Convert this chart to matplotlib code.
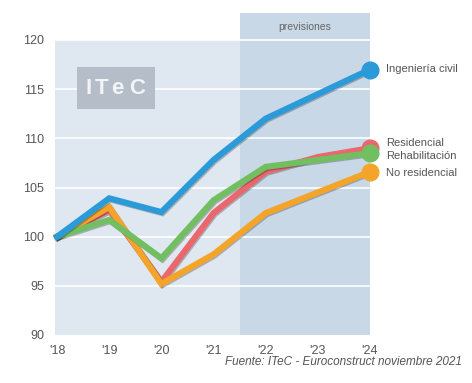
import matplotlib
matplotlib.use("Agg")
import matplotlib.pyplot as plt
from matplotlib.patches import Rectangle
import matplotlib.patheffects as pe
from matplotlib import font_manager

years = [2018, 2019, 2020, 2021, 2022, 2023, 2024]
year_labels = ["'18", "'19", "'20", "'21", "'22", "'23", "'24"]
ingenieria = [100, 103.9, 102.5, 107.8, 112.0, 114.5, 117.0]
residencial = [100, 102.7, 95.4, 102.4, 106.6, 108.1, 109.0]
rehabilitacion = [100, 101.7, 97.8, 103.7, 107.1, 107.8, 108.5]
no_residencial = [100, 103.0, 95.2, 98.2, 102.4, 104.5, 106.6]
y_ticks = [90, 95, 100, 105, 110, 115, 120]
forecast_start = 2021.5

names = [f.name for f in font_manager.fontManager.ttflist]
narrow = "Liberation Sans Narrow" if "Liberation Sans Narrow" in names else "Liberation Sans"
plt.rcParams['font.family'] = [narrow, 'DejaVu Sans']

fig = plt.figure(figsize=(4.72, 3.83), dpi=100)
ax = fig.add_axes([55/472, 1-335/383, 315/472, 295/383])
ax.set_xlim(2017.96, 2024.0)
ax.set_ylim(90, 120)
ax.set_facecolor('#dfe7f0')
for s in ax.spines.values():
    s.set_visible(False)

# forecast band (extends above the axes for header)
ax.add_patch(Rectangle((forecast_start, 90), 2024.0 - forecast_start, 32.75,
                       facecolor='#c9d8e6', edgecolor='none', zorder=0.5, clip_on=False))
ax.text((forecast_start + 2024.0) / 2, 121.35, 'previsiones', ha='center', va='center',
        fontsize=7.5, color='#666666')

for yv in y_ticks[1:]:
    ax.axhline(yv, color='white', lw=1.2, zorder=1, clip_on=False)

series = [
    (residencial, '#e9676d'),
    (no_residencial, '#f5a42a'),
    (rehabilitacion, '#72bf62'),
    (ingenieria, '#2b9ad8'),
]
for vals, col in series:
    ax.plot(years, vals, color=col, lw=4.4, solid_joinstyle='miter', zorder=3, clip_on=False,
            path_effects=[pe.SimpleLineShadow(offset=(0.8, -0.8), alpha=0.25), pe.Normal()])
    ax.plot(years[-1], vals[-1], 'o', color=col, ms=12, zorder=4, clip_on=False)

lab_kw = dict(fontsize=8, color='#555555', ha='left', va='center')
ax.text(2024.3, ingenieria[-1], 'Ingeniería civil', **lab_kw)
ax.text(2024.3, 109.5, 'Residencial', **lab_kw)
ax.text(2024.3, 108.2, 'Rehabilitación', **lab_kw)
ax.text(2024.3, 106.5, 'No residencial', **lab_kw)

ax.set_xticks(years)
ax.set_xticklabels(year_labels)
ax.set_yticks(y_ticks)
ax.tick_params(length=0, labelsize=9, colors='#555555')
ax.tick_params(axis='y', pad=8)
ax.tick_params(axis='x', pad=7)

# ITeC badge
fig.patches.append(Rectangle((77/472, 1-109/383), 78/472, 42/383, transform=fig.transFigure,
                             facecolor='#b5bdc9', edgecolor='none', zorder=5))
for ch, px in zip(['I', 'T', 'e', 'C'], [89, 102, 117, 137]):
    fig.text(px/472, 1-88.5/383, ch, fontsize=16, fontweight='bold', color='#f2f4f7',
             ha='center', va='center', family=['Liberation Sans', 'DejaVu Sans'], zorder=6)

fig.text(462/472, 1-362/383, 'Fuente: ITeC - Euroconstruct noviembre 2021', ha='right',
         va='center', fontsize=8.5, style='italic', color='#555555')

fig.savefig('out.png', dpi=100, facecolor='white')
